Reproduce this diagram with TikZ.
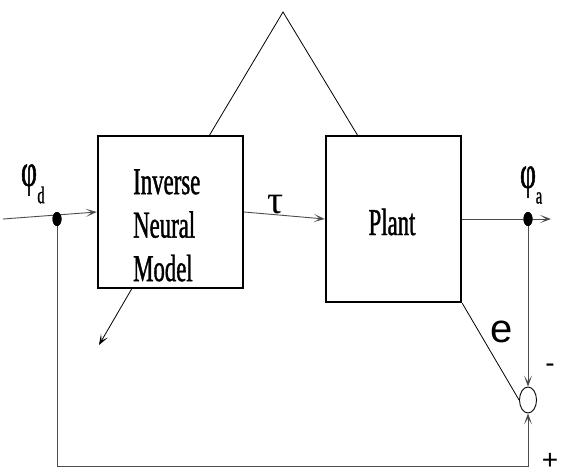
\documentclass[tikz,border=0pt]{standalone}
\usepackage{fontspec}
\setmainfont{Liberation Serif}
\newfontfamily\narrow[FakeStretch=0.6, FakeBold=1]{Liberation Serif}
\newfontfamily\plainsans{Liberation Sans}
\usetikzlibrary{arrows.meta, positioning, shapes.geometric}

\begin{document}
\begin{tikzpicture}[x=1pt, y=-1pt, >={Stealth[length=11pt, width=8pt, inset=6pt]},
    block/.style={draw, line width=2.4pt, inner sep=0pt},
    sig/.style={draw=black!70, line width=0.9pt},
    jdot/.style={ellipse, fill=black, minimum width=9pt, minimum height=14pt, inner sep=0pt},
    lbl/.style={font=\narrow\fontsize{38}{43.5}\selectfont, align=left, inner sep=0pt}]
  \useasboundingbox (0,0) rectangle (562,474);
  % the two blocks
  \node[block, minimum width=145pt, minimum height=152pt] (inm) at (170.5,212) {};
  \node[lbl, anchor=north west] (inmtext) at (133,169) {Inverse\\Neural\\Model};
  \node[block, minimum width=135pt, minimum height=166pt] (plant) at (393.5,219) {};
  \node[lbl, anchor=base] (planttext) at (392,235) {Plant};
  % pick-off points and the summing junction
  \foreach \n/\x in {jin/57, jout/528} \node[jdot] (\n) at (\x,219) {};
  \node[ellipse, draw, fill=white, line width=0.9pt, minimum width=17pt, minimum height=26pt, inner sep=0pt] (sum) at (528,400) {};
  \coordinate (in) at (3,219);
  \coordinate (out) at (551,219);
  \coordinate (fb) at (528,466);
  \coordinate (apex) at (283,12);
  \coordinate (tl) at (209,136);
  \coordinate (tr) at (358,136);
  \coordinate (learn) at (99,345);
  % signal lines
  \draw[sig, ->] (in) -- (inm.west);
  \draw[sig, ->] (inm.east) -- (plant.west);
  \draw[sig, ->] (plant.east) -- (out);
  \draw[sig, ->] (jout.center) -- (sum.north);
  \draw[sig, ->] (jin.center) |- (fb) -- (sum.south);
  \foreach \n in {jin, jout} \node[jdot] at (\n) {};
  \draw[line width=0.8pt] (plant.south east) -- (sum.west);
  \draw[line width=0.8pt] (tl) -- (apex) -- (tr);
  \draw[line width=0.8pt, ->] ([xshift=-39pt]inm.south) -- (learn);
  % labels
  \node[font=\narrow\fontsize{46}{46}\selectfont, inner sep=0pt] (phid) at (29,180) {φ};
  \node[font=\narrow\fontsize{24}{24}\selectfont, inner sep=0pt] (subd) at (41,195) {d};
  \node[font=\fontsize{40}{40}\selectfont, inner sep=0pt] (tau) at (276,205) {τ};
  \node[font=\narrow\fontsize{46}{46}\selectfont, inner sep=0pt] (phia) at (528,182) {φ};
  \node[font=\narrow\fontsize{24}{24}\selectfont, inner sep=0pt] (suba) at (539,198) {a};
  \node[font=\plainsans\fontsize{40}{40}\selectfont, inner sep=0pt] (err) at (502,332) {e};
  \node[font=\plainsans\fontsize{28}{28}\selectfont, inner sep=0pt] (minus) at (550,368) {-};
  \node[font=\plainsans\fontsize{28}{28}\selectfont, inner sep=0pt] (plus) at (550,461) {+};
\end{tikzpicture}
\end{document}
